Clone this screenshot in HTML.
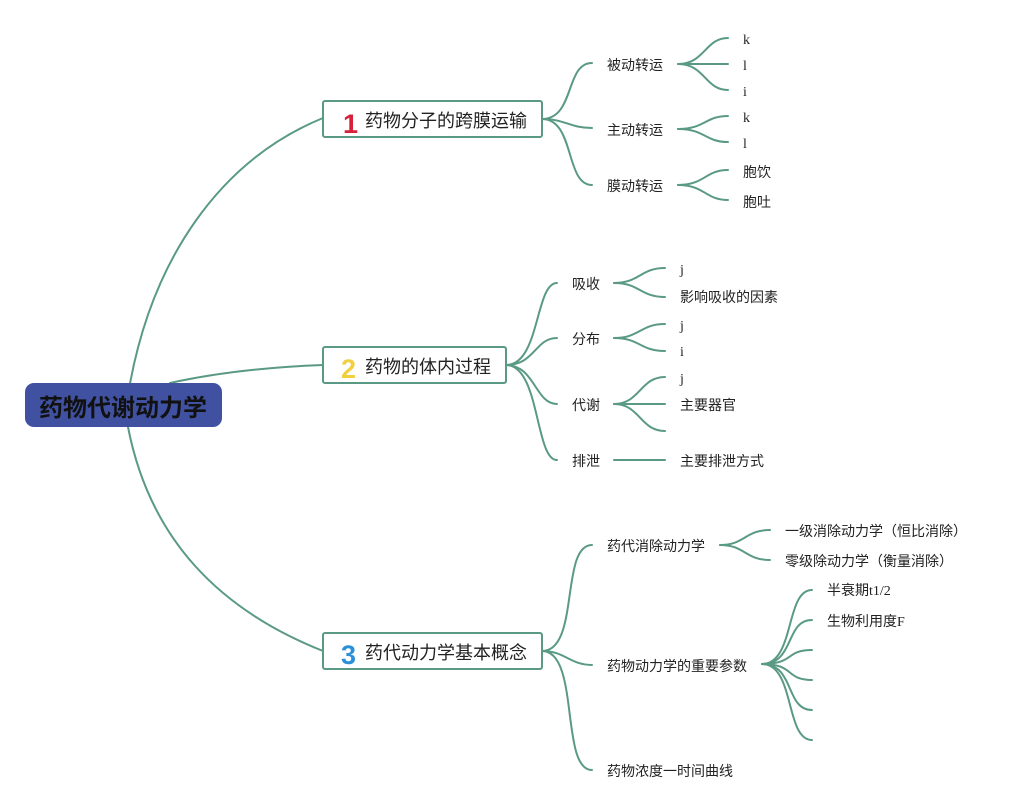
<!DOCTYPE html>
<html><head><meta charset="utf-8">
<style>
html,body{margin:0;padding:0;background:#fff;}
svg{display:block;}
text{font-family:"Liberation Sans","Noto Sans CJK SC",sans-serif;fill:#222;}
.s{font-family:"Liberation Serif","Noto Sans CJK SC",serif;}
</style></head><body>
<svg width="1027" height="810" viewBox="0 0 1027 810" xmlns="http://www.w3.org/2000/svg">
<g fill="none" stroke="#5a9a85" stroke-width="2" stroke-linecap="round">
<path d="M128,395 C150,260 220,160 323,118"/>
<path d="M170,383 C220,372 270,367 323,365"/>
<path d="M128,427 C150,540 220,610 323,651"/>
<path d="M542,119 C575,119 565,63 592,63"/>
<path d="M542,119 C565,119 570,128 592,128"/>
<path d="M542,119 C575,119 565,185 592,185"/>
<path d="M678,64 C705,64 705,38 728,38"/>
<path d="M678,64 L728,64"/>
<path d="M678,64 C705,64 705,90 728,90"/>
<path d="M678,129 C705,129 705,116 728,116"/>
<path d="M678,129 C705,129 705,142 728,142"/>
<path d="M678,185 C705,185 705,170 728,170"/>
<path d="M678,185 C705,185 705,200 728,200"/>
<path d="M506,365 C540,365 535,283 557,283"/>
<path d="M506,365 C535,365 535,338 557,338"/>
<path d="M506,365 C535,365 535,404 557,404"/>
<path d="M506,365 C540,365 535,460 557,460"/>
<path d="M614,283 C640,283 640,268 665,268"/>
<path d="M614,283 C640,283 640,297 665,297"/>
<path d="M614,338 C640,338 640,324 665,324"/>
<path d="M614,338 C640,338 640,351 665,351"/>
<path d="M614,404 C640,404 640,377 665,377"/>
<path d="M614,404 L665,404"/>
<path d="M614,404 C640,404 640,431 665,431"/>
<path d="M614,460 L665,460"/>
<path d="M542,651 C580,651 560,545 592,545"/>
<path d="M542,651 C565,651 570,665 592,665"/>
<path d="M542,651 C580,651 560,770 592,770"/>
<path d="M720,545 C745,545 745,530 770,530"/>
<path d="M720,545 C745,545 745,560 770,560"/>
<path d="M762,664 C795,664 785,590 812,590"/>
<path d="M762,664 C795,664 785,620 812,620"/>
<path d="M762,664 C795,664 785,650 812,650"/>
<path d="M762,664 C795,664 785,680 812,680"/>
<path d="M762,664 C795,664 785,710 812,710"/>
<path d="M762,664 C795,664 785,740 812,740"/>
</g>
<rect x="25" y="383" width="197" height="44" rx="9" fill="#3f51a0"/>
<text x="123" y="416" text-anchor="middle" font-size="24" font-weight="bold" style="fill:#111">药物代谢动力学</text>
<g fill="#fff" stroke="#5a9a85" stroke-width="2">
<rect x="323" y="101" width="219" height="36" rx="2"/>
<rect x="323" y="347" width="183" height="36" rx="2"/>
<rect x="323" y="633" width="219" height="36" rx="2"/>
</g>
<text x="343" y="133" font-size="27" font-weight="bold" style="fill:#d8203a">1</text>
<text x="365" y="127" font-size="18">药物分子的跨膜运输</text>
<text x="341" y="378" font-size="27" font-weight="bold" style="fill:#f0d040">2</text>
<text x="365" y="373" font-size="18">药物的体内过程</text>
<text x="341" y="664" font-size="27" font-weight="bold" style="fill:#2a90d8">3</text>
<text x="365" y="659" font-size="18">药代动力学基本概念</text>
<g font-size="14">
<text x="607" y="70">被动转运</text>
<text x="607" y="135">主动转运</text>
<text x="607" y="191">膜动转运</text>
<text class="s" x="743" y="44">k</text>
<text class="s" x="743" y="70">l</text>
<text class="s" x="743" y="96">i</text>
<text class="s" x="743" y="122">k</text>
<text class="s" x="743" y="148">l</text>
<text x="743" y="177">胞饮</text>
<text x="743" y="207">胞吐</text>
<text x="572" y="289">吸收</text>
<text x="572" y="344">分布</text>
<text x="572" y="410">代谢</text>
<text x="572" y="466">排泄</text>
<text class="s" x="680" y="274">j</text>
<text x="680" y="302">影响吸收的因素</text>
<text class="s" x="680" y="330">j</text>
<text class="s" x="680" y="356">i</text>
<text class="s" x="680" y="383">j</text>
<text x="680" y="410">主要器官</text>
<text x="680" y="466">主要排泄方式</text>
<text x="607" y="551">药代消除动力学</text>
<text x="607" y="671">药物动力学的重要参数</text>
<text x="607" y="776">药物浓度一时间曲线</text>
<text x="785" y="536">一级消除动力学（恒比消除）</text>
<text x="785" y="566">零级除动力学（衡量消除）</text>
<text x="827" y="595">半衰期<tspan class="s">t1/2</tspan></text>
<text x="827" y="626">生物利用度<tspan class="s">F</tspan></text>
</g>
</svg>
</body></html>
